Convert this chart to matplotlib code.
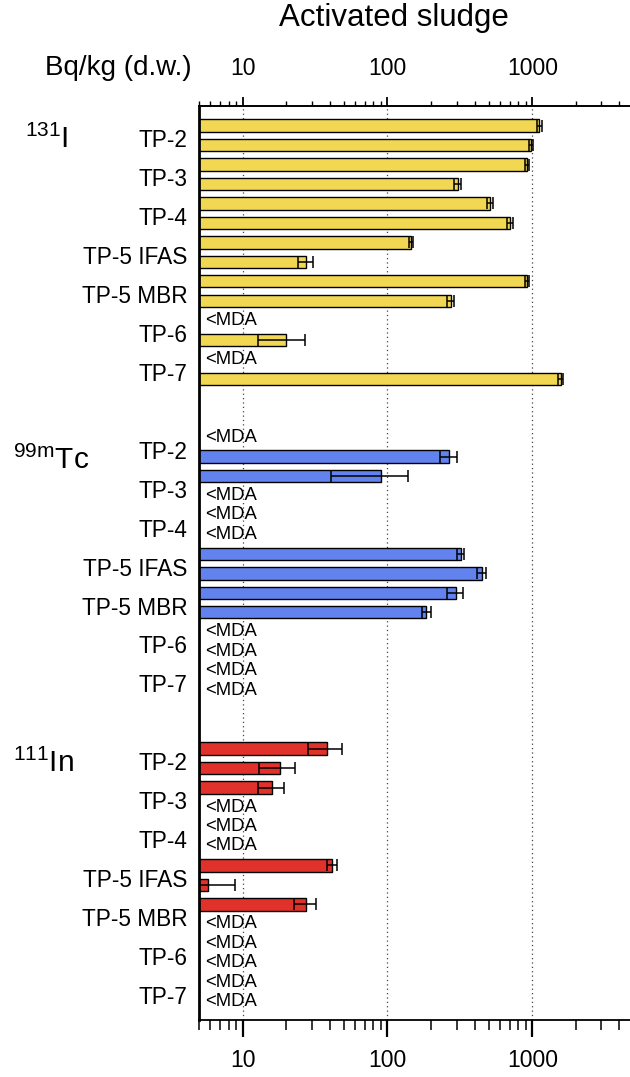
import numpy as np
import matplotlib
matplotlib.use('Agg')
import matplotlib.pyplot as plt
import matplotlib.transforms as mtransforms
from matplotlib.ticker import LogLocator, NullFormatter, FixedLocator, FixedFormatter

plt.rcParams['font.family'] = ['Liberation Sans', 'DejaVu Sans']
plt.rcParams['mathtext.default'] = 'regular'

# sites, two samples each (rows in order top to bottom)
sites = ['TP-2', 'TP-3', 'TP-4', 'TP-5 IFAS', 'TP-5 MBR', 'TP-6', 'TP-7']
isotopes = [r'$^{131}$I', r'$^{99m}$Tc', r'$^{111}$In']
colors = ['#F2D852', '#6283EE', '#E0322A']

nan = np.nan
# Bq/kg (d.w.), nan = <MDA
i131 = [1115, 978, 915, 305, 513, 698, 145.5, 27.5, 920, 273, nan, 19.8, nan, 1566]
i131_err = [45, 34, 30, 16, 24, 34, 5.5, 3.3, 28, 15, nan, 7, nan, 70]
tc99m = [nan, 268, 90, nan, nan, nan, 320, 446, 296, 186, nan, nan, nan, nan]
tc99m_err = [nan, 36, 49, nan, nan, nan, 20, 34, 38, 13, nan, nan, nan, nan]
in111 = [38.4, 18, 16, nan, nan, nan, 41.5, 5.8, 27.4, nan, nan, nan, nan, nan]
in111_err = [10, 5, 3.2, nan, nan, nan, 3.4, 3.0, 4.7, nan, nan, nan, nan, nan]

values = [i131, tc99m, in111]
errors = [i131_err, tc99m_err, in111_err]
# baseline offset of the isotope label (in rows) and left position (fig px)
iso_dy = [1.13, 1.64, 1.18]
iso_x = [25, 13, 13]

fig = plt.figure(figsize=(6.3, 10.77), dpi=100)
ax = fig.add_axes([0.3159, 0.0529, 0.6897, 0.8491])

blend_ax = mtransforms.blended_transform_factory(ax.transAxes, ax.transData)
blend_fig = mtransforms.blended_transform_factory(fig.transFigure, ax.transData)

ytick_pos = []
ytick_lab = []
for g in range(3):
    start = g * 16
    y = start + np.arange(14)
    v = np.array(values[g], dtype=float)
    e = np.array(errors[g], dtype=float)
    ok = ~np.isnan(v)
    ax.barh(y[ok], v[ok], height=0.63, left=0, color=colors[g],
            edgecolor='black', linewidth=1.0, zorder=2)
    ax.errorbar(v[ok], y[ok], xerr=e[ok], fmt='none', ecolor='black',
                elinewidth=1.1, capsize=4.3, capthick=1.1, zorder=3)
    for yy in y[~ok]:
        ax.text(0.014, yy, '<MDA', transform=blend_ax, ha='left', va='center',
                fontsize=13.3, zorder=4)
    for k, s in enumerate(sites):
        ytick_pos.append(start + 2 * k + 0.65)
        ytick_lab.append(s)
    ax.text(iso_x[g] / 630, start + iso_dy[g], isotopes[g], transform=blend_fig,
            ha='left', va='baseline', fontsize=21.5)

ax.set_xscale('log')
ax.set_xlim(5, 5000)
ax.set_ylim(45.94, -1.03)

ax.set_yticks(ytick_pos)
ax.set_yticklabels(ytick_lab, fontsize=16.3)
ax.tick_params(axis='y', length=0, pad=8.5)

ax.xaxis.set_major_locator(FixedLocator([10, 100, 1000]))
ax.xaxis.set_major_formatter(FixedFormatter(['10', '100', '1000']))
ax.xaxis.set_minor_locator(LogLocator(base=10, subs=np.arange(2, 10), numticks=20))
ax.xaxis.set_minor_formatter(NullFormatter())
ax.tick_params(axis='x', which='major', direction='out', length=12, width=1.6,
               labelsize=16.5, pad=9)
ax.tick_params(axis='x', which='minor', direction='out', length=7, width=1.1)

ax.grid(axis='x', which='major', linestyle=(0, (1, 2.5)), color='#444444',
        linewidth=0.9, zorder=0)
ax.set_axisbelow(True)

ax.spines['right'].set_visible(False)
ax.spines['left'].set_linewidth(2.0)
ax.spines['bottom'].set_linewidth(1.3)
ax.spines['top'].set_linewidth(1.2)

# top axis with shorter ticks
ax2 = ax.twiny()
ax2.set_xscale('log')
ax2.set_xlim(ax.get_xlim())
ax2.xaxis.set_major_locator(FixedLocator([10, 100, 1000]))
ax2.xaxis.set_major_formatter(FixedFormatter(['10', '100', '1000']))
ax2.xaxis.set_minor_locator(LogLocator(base=10, subs=np.arange(2, 10), numticks=20))
ax2.xaxis.set_minor_formatter(NullFormatter())
ax2.tick_params(axis='x', which='major', direction='out', length=6.5, width=1.3,
                labelsize=16.5, pad=12)
ax2.tick_params(axis='x', which='minor', direction='out', length=3.6, width=1.0)
for sp in ['right', 'left', 'bottom']:
    ax2.spines[sp].set_visible(False)
ax2.spines['top'].set_linewidth(1.2)

fig.text(394 / 630, 1 - 18 / 1077, 'Activated sludge', ha='center', va='center',
         fontsize=22.5)
fig.text(192 / 630, 1 - 68 / 1077, 'Bq/kg (d.w.)', ha='right', va='center',
         fontsize=20)

fig.savefig('out.png', dpi=100)
